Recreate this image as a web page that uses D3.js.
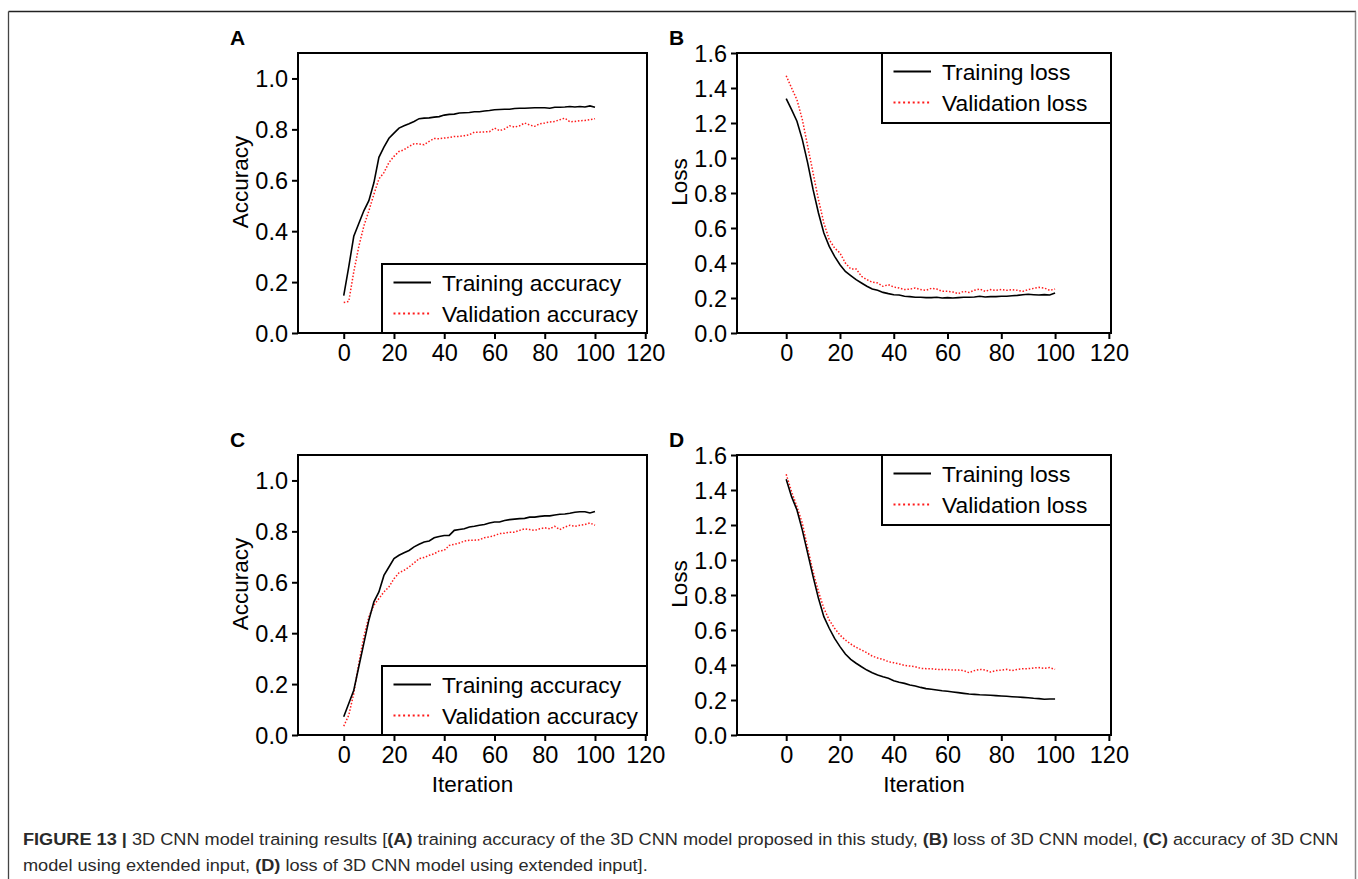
<!DOCTYPE html>
<html>
<head>
<meta charset="utf-8">
<script src="https://cdn.jsdelivr.net/npm/d3@7"></script>
<style>
body { margin: 0; background: #fff; }
svg text { font-family: "Liberation Sans", Arial, Helvetica, sans-serif; }
</style>
</head>
<body>
<svg id="fig" width="1358" height="879"></svg>
<script>
// iterations sampled every 2 steps
var iterations = d3.range(0, 101, 2);

var accTrainA = [0.147,0.26,0.38,0.43,0.48,0.52,0.59,0.69,0.73,0.765,0.785,0.805,0.814,0.822,0.831,0.842,0.844,0.845,0.848,0.85,
    0.856,0.859,0.86,0.864,0.865,0.866,0.869,0.869,0.872,0.874,0.877,0.878,0.879,0.879,0.882,0.883,0.883,0.884,0.885,0.885,
    0.885,0.883,0.887,0.887,0.888,0.89,0.888,0.89,0.888,0.892,0.887];
var accValA = [0.12,0.124,0.24,0.34,0.42,0.48,0.545,0.605,0.63,0.67,0.694,0.713,0.72,0.733,0.743,0.743,0.74,0.753,0.764,0.763,
    0.766,0.768,0.772,0.772,0.775,0.779,0.789,0.789,0.79,0.791,0.805,0.795,0.801,0.814,0.809,0.814,0.825,0.817,0.812,0.822,
    0.825,0.829,0.831,0.838,0.844,0.83,0.831,0.834,0.835,0.838,0.842];

var lossTrainB = [1.339,1.276,1.21,1.105,0.971,0.819,0.686,0.571,0.495,0.438,0.39,0.352,0.328,0.305,0.286,0.267,0.251,0.244,0.232,0.225,
    0.219,0.217,0.21,0.208,0.204,0.204,0.202,0.202,0.204,0.2,0.202,0.2,0.202,0.204,0.204,0.206,0.21,0.206,0.208,0.208,
    0.21,0.21,0.213,0.215,0.219,0.221,0.219,0.217,0.219,0.217,0.229];
var lossValB = [1.47,1.4,1.333,1.219,1.067,0.914,0.762,0.629,0.533,0.486,0.457,0.4,0.366,0.366,0.324,0.305,0.29,0.286,0.267,0.276,
    0.263,0.257,0.248,0.251,0.257,0.248,0.244,0.255,0.251,0.238,0.238,0.234,0.225,0.238,0.232,0.244,0.251,0.238,0.248,0.244,
    0.248,0.244,0.248,0.244,0.238,0.248,0.255,0.261,0.257,0.244,0.251];

var accTrainC = [0.072,0.124,0.176,0.268,0.36,0.451,0.523,0.562,0.627,0.66,0.693,0.706,0.716,0.725,0.739,0.749,0.758,0.762,0.775,0.78,
    0.784,0.784,0.804,0.807,0.81,0.817,0.82,0.824,0.827,0.833,0.837,0.837,0.843,0.846,0.848,0.85,0.851,0.856,0.856,0.859,
    0.861,0.861,0.864,0.867,0.868,0.871,0.875,0.877,0.877,0.872,0.878];
var accValC = [0.035,0.078,0.163,0.281,0.386,0.464,0.51,0.536,0.562,0.582,0.614,0.637,0.647,0.66,0.676,0.693,0.697,0.706,0.712,0.723,
    0.725,0.745,0.749,0.754,0.762,0.765,0.765,0.767,0.775,0.778,0.784,0.791,0.793,0.797,0.797,0.804,0.81,0.807,0.804,0.81,
    0.814,0.81,0.82,0.807,0.817,0.824,0.82,0.824,0.827,0.833,0.824];

var lossTrainD = [1.461,1.362,1.286,1.171,1.038,0.905,0.781,0.676,0.61,0.552,0.505,0.463,0.432,0.41,0.39,0.371,0.356,0.343,0.333,0.324,
    0.31,0.301,0.295,0.286,0.28,0.272,0.265,0.261,0.257,0.253,0.25,0.246,0.242,0.238,0.234,0.232,0.23,0.229,0.227,0.225,
    0.223,0.221,0.219,0.217,0.215,0.213,0.21,0.208,0.204,0.206,0.206];
var lossValD = [1.49,1.39,1.305,1.21,1.067,0.933,0.819,0.724,0.657,0.61,0.571,0.543,0.52,0.501,0.486,0.47,0.451,0.44,0.432,0.419,
    0.413,0.406,0.398,0.394,0.39,0.381,0.379,0.379,0.375,0.375,0.375,0.371,0.371,0.368,0.356,0.368,0.375,0.371,0.36,0.368,
    0.371,0.375,0.368,0.375,0.379,0.379,0.383,0.385,0.381,0.385,0.375];

var xTicks = [0, 20, 40, 60, 80, 100, 120];
var accTicks = [0, 0.2, 0.4, 0.6, 0.8, 1.0];
var lossTicks = [0, 0.2, 0.4, 0.6, 0.8, 1.0, 1.2, 1.4, 1.6];

var accLegend = ["Training accuracy", "Validation accuracy"];
var lossLegend = ["Training loss", "Validation loss"];

var svg = d3.select("#fig");

// outer figure frame
svg.append("line").attr("x1", 8.5).attr("y1", 11.5).attr("x2", 1356).attr("y2", 11.5)
    .attr("stroke", "#222").attr("stroke-width", 1.3);
svg.append("line").attr("x1", 8.5).attr("y1", 11.5).attr("x2", 8.5).attr("y2", 879)
    .attr("stroke", "#444").attr("stroke-width", 1.3);
svg.append("line").attr("x1", 1355.5).attr("y1", 11.5).attr("x2", 1355.5).attr("y2", 879)
    .attr("stroke", "#888").attr("stroke-width", 1.5);

var panels = [
    {id: "A", left: 298, top: 53, right: 647, bottom: 333, xMin: -18.2, xMax: 120.7, yMax: 1.1, yTicks: accTicks,
     yLabel: "Accuracy", train: accTrainA, val: accValA, legend: accLegend, legendPos: "bottom", iterLabel: false},
    {id: "B", left: 737, top: 53, right: 1111, bottom: 333, xMin: -18.3, xMax: 120.8, yMax: 1.6, yTicks: lossTicks,
     yLabel: "Loss", train: lossTrainB, val: lossValB, legend: lossLegend, legendPos: "top", iterLabel: false},
    {id: "C", left: 298, top: 455, right: 647, bottom: 735, xMin: -18.2, xMax: 120.7, yMax: 1.1, yTicks: accTicks,
     yLabel: "Accuracy", train: accTrainC, val: accValC, legend: accLegend, legendPos: "bottom", iterLabel: true},
    {id: "D", left: 737, top: 455, right: 1111, bottom: 735, xMin: -18.3, xMax: 120.8, yMax: 1.6, yTicks: lossTicks,
     yLabel: "Loss", train: lossTrainD, val: lossValD, legend: lossLegend, legendPos: "top", iterLabel: true}
];

panels.forEach(function(p) {
    var x = d3.scaleLinear().domain([p.xMin, p.xMax]).range([p.left, p.right]);
    var y = d3.scaleLinear().domain([0, p.yMax]).range([p.bottom, p.top]);
    var g = svg.append("g");

    // panel letter
    g.append("text").attr("x", p.left - 68).attr("y", p.top - 8)
        .attr("font-size", 21).attr("font-weight", "bold").text(p.id);

    var xAxis = d3.axisBottom(x).tickValues(xTicks).tickSize(6).tickPadding(5).tickFormat(d3.format("d"));
    var yAxis = d3.axisLeft(y).tickValues(p.yTicks).tickSize(6).tickPadding(4).tickFormat(d3.format(".1f"));

    var gx = g.append("g").attr("transform", "translate(0," + p.bottom + ")").call(xAxis);
    var gy = g.append("g").attr("transform", "translate(" + p.left + ",0)").call(yAxis);
    [gx, gy].forEach(function(a) {
        a.select(".domain").remove();
        a.selectAll("line").attr("stroke", "#000").attr("stroke-width", 2);
        a.selectAll("text").attr("font-size", 23.5).attr("fill", "#000")
            .attr("font-family", "'Liberation Sans', Arial, sans-serif");
    });
    gx.selectAll("text").attr("dy", "0.74em");
    gy.selectAll("text").attr("dy", "0.35em");

    // frame
    g.append("rect").attr("x", p.left).attr("y", p.top)
        .attr("width", p.right - p.left).attr("height", p.bottom - p.top)
        .attr("fill", "none").attr("stroke", "#000").attr("stroke-width", 2);

    var line = d3.line()
        .x(function(d, i) { return x(iterations[i]); })
        .y(function(d) { return y(d); });

    g.append("path").datum(p.val).attr("d", line)
        .attr("fill", "none").attr("stroke", "#ff1a1a").attr("stroke-width", 1.5)
        .attr("stroke-dasharray", "1.5,1.8");
    g.append("path").datum(p.train).attr("d", line)
        .attr("fill", "none").attr("stroke", "#000").attr("stroke-width", 1.6);

    // y label
    var cy = p.top + (p.bottom - p.top) / 2 - 11;
    g.append("text").attr("transform", "translate(" + (p.left - 50) + "," + cy + ") rotate(-90)")
        .attr("text-anchor", "middle").attr("font-size", 22.5).text(p.yLabel);

    if (p.iterLabel) {
        g.append("text").attr("x", (p.left + p.right) / 2).attr("y", p.bottom + 57)
            .attr("text-anchor", "middle").attr("font-size", 22.5).text("Iteration");
    }

    // legend box
    var lb = p.legendPos === "bottom"
        ? {x: p.left + 84, y: p.bottom - 69, w: p.right - p.left - 84, h: 69}
        : {x: p.left + 145, y: p.top, w: p.right - p.left - 145, h: 70};
    var lg = g.append("g");
    lg.append("rect").attr("x", lb.x).attr("y", lb.y).attr("width", lb.w).attr("height", lb.h)
        .attr("fill", "#fff").attr("stroke", "#000").attr("stroke-width", 2);
    p.legend.forEach(function(name, i) {
        var ry = lb.y + 18.5 + i * 31;
        lg.append("line").attr("x1", lb.x + 11.5).attr("x2", lb.x + 49).attr("y1", ry).attr("y2", ry)
            .attr("stroke", i === 0 ? "#000" : "#ff1a1a").attr("stroke-width", 2)
            .attr("stroke-dasharray", i === 0 ? null : "2,2.8");
        lg.append("text").attr("x", lb.x + 60).attr("y", ry + 8)
            .attr("font-size", 22.8).text(name);
    });
});

// caption
var cap1 = svg.append("text").attr("x", 23).attr("y", 845).attr("font-size", 17).attr("fill", "#2a2a2a");
cap1.append("tspan").attr("font-weight", "bold").text("FIGURE 13 | ");
cap1.append("tspan").text("3D CNN model training results [");
cap1.append("tspan").attr("font-weight", "bold").text("(A)");
cap1.append("tspan").text(" training accuracy of the 3D CNN model proposed in this study, ");
cap1.append("tspan").attr("font-weight", "bold").text("(B)");
cap1.append("tspan").text(" loss of 3D CNN model, ");
cap1.append("tspan").attr("font-weight", "bold").text("(C)");
cap1.append("tspan").text(" accuracy of 3D CNN");

var cap2 = svg.append("text").attr("x", 23).attr("y", 871).attr("font-size", 17).attr("fill", "#2a2a2a");
cap2.append("tspan").text("model using extended input, ");
cap2.append("tspan").attr("font-weight", "bold").text("(D)");
cap2.append("tspan").text(" loss of 3D CNN model using extended input].");

// squeeze caption to the reference width
var w1 = cap1.node().getComputedTextLength();
var k = (1340 - 23) / w1;
cap1.attr("transform", "translate(23,0) scale(" + k + ",1) translate(-23,0)");
cap2.attr("transform", "translate(23,0) scale(" + k + ",1) translate(-23,0)");
</script>
</body>
</html>
